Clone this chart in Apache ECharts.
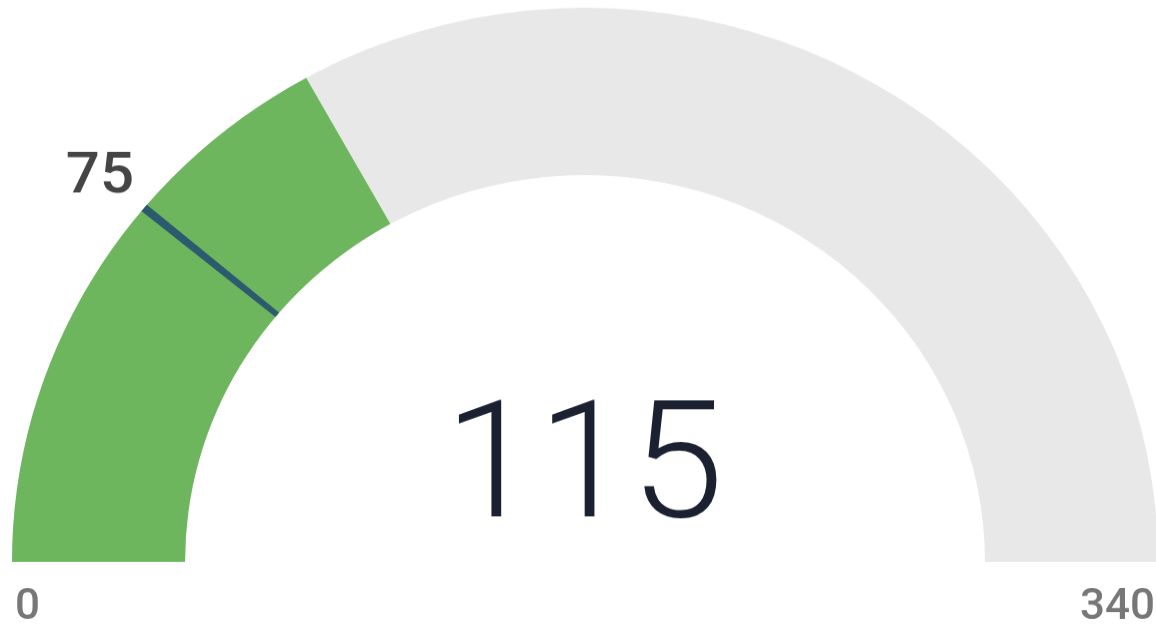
<!DOCTYPE html>
<html>
<head>
<meta charset="utf-8">
<script src="https://cdn.jsdelivr.net/npm/echarts@6/dist/echarts.min.js"></script>
<style>
html,body{margin:0;padding:0;background:#fff;overflow:hidden;}
#wrap{width:1156px;height:632px;overflow:hidden;position:relative;}
#chart{width:1156px;height:654px;transform:scaleY(0.967);transform-origin:0 0;}
</style>
</head>
<body>
<div id="wrap"><div id="chart"></div></div>
<script>
// Data
const gaugeMin = 0;
const gaugeMax = 340;
const gaugeValue = [115];
const thresholdValue = [75];
const tickLabels = ['0', '340'];

const chart = echarts.init(document.getElementById('chart'), null, {renderer: 'canvas'});
const C = [585, 581];
const R = 573;
const W = 173;
const t = thresholdValue[0];
const half = 0.8;

const option = {
  animation: false,
  backgroundColor: '#ffffff',
  series: [
    {
      type: 'gauge', z: 2,
      center: C, radius: R,
      startAngle: 180, endAngle: 0,
      min: gaugeMin, max: gaugeMax,
      splitNumber: 1,
      axisLine: {show: true, roundCap: false, lineStyle: {width: W, color: [[1, '#e8e8e8']]}},
      progress: {show: true, width: W, roundCap: false, itemStyle: {color: '#6db65d'}},
      pointer: {show: false},
      anchor: {show: false},
      axisTick: {show: false},
      splitLine: {show: false, length: 0, distance: 0},
      axisLabel: {
        show: true, distance: 3,
        color: '#7a7a7a', fontFamily: 'Roboto', fontSize: 44,
        formatter: function (v) {
          const s = v === gaugeMin ? tickLabels[0] : (v === gaugeMax ? tickLabels[1] : '');
          return s ? '{p|' + s + '}' : '';
        },
        rich: {p: {padding: [96, 0, 0, 0], color: '#777777', fontFamily: 'Roboto', fontWeight: 500, fontSize: 44}}
      },
      title: {show: false},
      detail: {
        show: true, offsetCenter: [-1, -89],
        fontFamily: 'Roboto', fontWeight: 300, fontSize: 168, color: '#1b2130',
        formatter: '{value}'
      },
      data: [{value: gaugeValue[0]}]
    },
    {
      type: 'gauge', z: 6,
      center: C, radius: R,
      startAngle: 180, endAngle: 0,
      min: gaugeMin, max: gaugeMax,
      axisLine: {show: true, roundCap: false, lineStyle: {width: W, color: [
        [(t - half) / gaugeMax, 'rgba(0,0,0,0)'],
        [(t + half) / gaugeMax, '#2c5a6f'],
        [1, 'rgba(0,0,0,0)']
      ]}},
      progress: {show: false},
      pointer: {show: false}, anchor: {show: false},
      axisTick: {show: false}, splitLine: {show: false}, axisLabel: {show: false},
      title: {show: false}, detail: {show: false},
      data: []
    },
    {
      type: 'gauge', z: 7,
      center: C, radius: R,
      startAngle: 180, endAngle: 180 - 180 * t / gaugeMax,
      min: gaugeMin, max: t,
      splitNumber: 1,
      axisLine: {show: false},
      progress: {show: false},
      pointer: {show: false}, anchor: {show: false},
      axisTick: {show: false},
      splitLine: {show: false, length: 0, distance: 0},
      axisLabel: {
        show: true, distance: -55,
        color: '#484848', fontFamily: 'Roboto', fontSize: 60,
        formatter: function (v) { return v === t ? '{q|' + t + '}' : ''; },
        rich: {q: {padding: [8, 0, 0, -36], color: '#454545', fontFamily: 'Roboto', fontWeight: 500, fontSize: 60}}
      },
      title: {show: false}, detail: {show: false},
      data: []
    }
  ]
};
chart.setOption(option);
</script>
</body>
</html>
